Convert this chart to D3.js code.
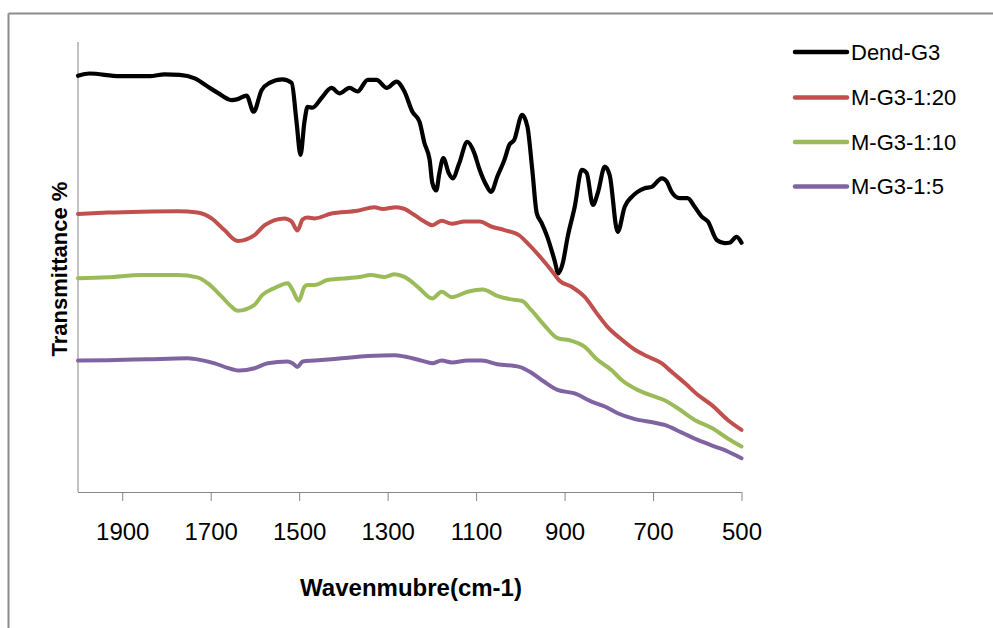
<!DOCTYPE html>
<html>
<head>
<meta charset="utf-8">
<script src="https://cdn.jsdelivr.net/npm/d3@7"></script>
<style>
  html, body { margin: 0; padding: 0; background: #fff; }
  svg { display: block; }
</style>
</head>
<body>
<svg id="chart" width="993" height="628"></svg>
<script>
// ---- Data (wavenumber cm-1, transmittance %) ----
const seriesNames = ["Dend-G3", "M-G3-1:20", "M-G3-1:10", "M-G3-1:5"];
const seriesColors = ["#000000", "#C0504D", "#9BBB59", "#8064A2"];
const xTicks = [1900, 1700, 1500, 1300, 1100, 900, 700, 500];

const dendG3 = [
  [2000,92.5],[1974,93.0],[1906,92.4],[1838,92.4],[1804,92.8],[1770,92.7],[1736,91.9],
  [1707,90.1],[1684,88.7],[1653,87.1],[1639,87.3],[1619,88.1],[1603,84.5],[1585,89.3],
  [1567,90.9],[1538,91.7],[1517,90.9],[1506,82.3],[1497,74.9],[1488,82.3],[1481,85.6],
  [1470,85.4],[1449,87.6],[1427,89.8],[1409,88.6],[1386,89.8],[1368,89.0],[1345,91.6],
  [1325,91.6],[1302,89.8],[1280,91.2],[1262,89.0],[1244,84.5],[1228,82.3],[1217,77.6],
  [1205,73.8],[1199,68.7],[1190,67.0],[1183,70.9],[1174,74.2],[1162,70.9],[1153,69.7],
  [1138,73.1],[1120,77.8],[1104,75.3],[1093,71.9],[1077,68.2],[1066,66.7],[1052,70.1],
  [1036,73.8],[1025,77.1],[1014,78.2],[996,83.8],[984,81.2],[973,71.6],[963,62.0],
  [952,59.8],[939,56.7],[923,51.6],[914,48.6],[904,50.9],[893,56.7],[877,63.4],
  [861,71.6],[850,70.9],[836,63.8],[825,66.4],[809,72.3],[798,70.4],[780,57.8],
  [764,63.4],[748,65.6],[735,66.7],[719,67.5],[703,67.8],[680,69.7],[669,69.0],
  [658,66.7],[640,65.3],[622,65.3],[606,63.4],[590,61.2],[576,60.1],[556,56.0],
  [538,55.3],[527,55.4],[511,56.7],[500,55.4]
];
const mG3_20 = [
  [2000,61.8],[1933,62.1],[1856,62.3],[1775,62.4],[1730,62.1],[1698,60.8],[1669,58.2],
  [1639,55.8],[1601,57.1],[1578,59.3],[1533,60.8],[1517,60.1],[1504,58.1],[1492,60.6],
  [1481,61.0],[1465,60.8],[1427,61.9],[1368,62.5],[1330,63.3],[1311,62.9],[1280,63.3],
  [1262,62.9],[1240,61.6],[1217,60.1],[1199,59.3],[1178,60.3],[1155,59.6],[1126,60.1],
  [1092,60.1],[1066,59.0],[1036,58.2],[1002,57.0],[980,54.9],[952,51.9],[930,49.3],
  [912,47.0],[884,45.6],[855,43.4],[827,39.7],[803,36.7],[775,34.2],[741,31.6],
  [712,30.1],[680,28.6],[658,26.7],[628,24.2],[599,21.6],[567,19.3],[531,16.0],[500,13.8]
];
const mG3_10 = [
  [2000,47.5],[1933,47.7],[1856,48.2],[1775,48.2],[1730,47.7],[1707,46.4],[1675,43.4],
  [1653,41.2],[1639,40.3],[1601,41.6],[1583,43.8],[1556,45.3],[1526,46.4],[1515,44.9],
  [1501,42.5],[1488,45.6],[1481,46.0],[1465,46.0],[1436,47.1],[1368,47.7],[1337,48.2],
  [1307,47.8],[1284,48.4],[1262,47.8],[1232,45.6],[1199,43.0],[1178,44.5],[1155,43.3],
  [1119,44.5],[1085,45.0],[1052,43.6],[1020,42.8],[997,42.5],[975,40.4],[946,37.1],
  [916,34.2],[884,33.6],[855,32.3],[827,29.5],[794,27.1],[771,24.9],[735,22.7],
  [696,21.2],[674,20.4],[644,18.6],[606,16.0],[567,14.2],[531,11.9],[500,10.1]
];
const mG3_5 = [
  [2000,29.2],[1933,29.3],[1843,29.5],[1752,29.7],[1721,29.3],[1691,28.6],[1662,27.6],
  [1635,27.0],[1601,27.5],[1571,28.6],[1526,29.0],[1515,28.6],[1504,27.8],[1492,29.0],
  [1465,29.2],[1404,29.7],[1345,30.2],[1284,30.4],[1262,30.1],[1223,29.2],[1199,28.6],
  [1178,29.2],[1155,28.8],[1119,29.2],[1087,29.2],[1052,28.4],[1002,27.8],[975,26.5],
  [946,24.5],[916,22.7],[877,21.9],[839,20.1],[809,19.0],[780,17.5],[741,16.2],
  [696,15.4],[674,14.9],[635,13.2],[599,11.6],[560,10.1],[531,9.0],[500,7.5]
];
const allSeries = [dendG3, mG3_20, mG3_10, mG3_5];

// ---- Layout ----
const svg = d3.select("#chart");
const plot = { left: 78, right: 741.5, top: 42, bottom: 492 };

const x = d3.scaleLinear().domain([2000, 500]).range([plot.left, plot.right]);
const y = d3.scaleLinear().domain([0, 100]).range([plot.bottom, plot.top]);

// chart area border (top and left visible)
svg.append("line").attr("x1", 8.5).attr("x2", 993).attr("y1", 13.5).attr("y2", 13.5)
  .attr("stroke", "#8c8c8c").attr("stroke-width", 2);
svg.append("line").attr("x1", 8.5).attr("x2", 8.5).attr("y1", 13.5).attr("y2", 628)
  .attr("stroke", "#8c8c8c").attr("stroke-width", 2);

// Y axis line (no labels)
svg.append("line")
  .attr("x1", plot.left).attr("x2", plot.left)
  .attr("y1", plot.top).attr("y2", plot.bottom)
  .attr("stroke", "#868686").attr("stroke-width", 1);

// X axis
const xAxis = d3.axisBottom(x).tickValues(xTicks).tickSize(9).tickPadding(22)
  .tickFormat(d3.format("d"));
const gx = svg.append("g").attr("transform", `translate(0,${plot.bottom})`).call(xAxis);
gx.select(".domain").attr("stroke", "#868686").attr("d", `M${plot.left},0.5H${plot.right}`);
gx.selectAll(".tick line").attr("stroke", "#868686");
gx.selectAll(".tick text")
  .attr("font-family", "Liberation Sans, Arial, sans-serif")
  .attr("font-size", 24).attr("fill", "#000");

// Axis titles
svg.append("text")
  .attr("x", 411).attr("y", 596)
  .attr("text-anchor", "middle")
  .attr("font-family", "Liberation Sans, Arial, sans-serif")
  .attr("font-weight", "bold").attr("font-size", 24)
  .text("Wavenmubre(cm-1)");
svg.append("text")
  .attr("transform", "translate(67,269) rotate(-90)")
  .attr("text-anchor", "middle")
  .attr("font-family", "Liberation Sans, Arial, sans-serif")
  .attr("font-weight", "bold").attr("font-size", 22)
  .text("Transmittance %");

// Lines
const line = d3.line()
  .x(d => x(d[0]))
  .y(d => y(d[1]))
  .curve(d3.curveMonotoneX);

allSeries.forEach((s, i) => {
  const sorted = s.slice().sort((a, b) => b[0] - a[0]);
  svg.append("path")
    .datum(sorted)
    .attr("fill", "none")
    .attr("stroke", seriesColors[i])
    .attr("stroke-width", i === 0 ? 4.2 : 4)
    .attr("stroke-linejoin", "round")
    .attr("stroke-linecap", "round")
    .attr("d", line);
});

// Legend
const legendY = [52, 97.5, 142, 186.5];
const lg = svg.append("g");
seriesNames.forEach((name, i) => {
  lg.append("line")
    .attr("x1", 795).attr("x2", 847)
    .attr("y1", legendY[i]).attr("y2", legendY[i])
    .attr("stroke", seriesColors[i]).attr("stroke-width", 4.5)
    .attr("stroke-linecap", "round");
  lg.append("text")
    .attr("x", 851).attr("y", legendY[i]).attr("dy", "0.35em")
    .attr("font-family", "Liberation Sans, Arial, sans-serif")
    .attr("font-size", 22).attr("fill", "#000")
    .text(name);
});
</script>
</body>
</html>
